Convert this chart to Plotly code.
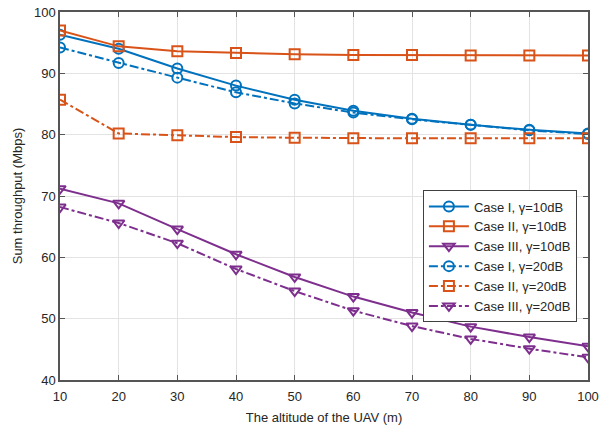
import plotly.graph_objects as go

altitude = [10, 20, 30, 40, 50, 60, 70, 80, 90, 100]
case1_10 = [96.3, 94.0, 90.8, 88.0, 85.7, 83.9, 82.6, 81.6, 80.8, 80.2]
case2_10 = [97.0, 94.4, 93.6, 93.3, 93.1, 93.0, 93.0, 92.9, 92.9, 92.9]
case3_10 = [71.2, 68.8, 64.6, 60.5, 56.8, 53.6, 51.0, 48.7, 47.0, 45.5]
case1_20 = [94.2, 91.7, 89.3, 86.9, 85.1, 83.6, 82.5, 81.6, 80.7, 80.1]
case2_20 = [85.7, 80.2, 79.9, 79.6, 79.5, 79.4, 79.4, 79.4, 79.4, 79.4]
case3_20 = [68.2, 65.6, 62.3, 58.1, 54.5, 51.3, 48.8, 46.7, 45.1, 43.7]
names = ["Case I, γ=10dB", "Case II, γ=10dB", "Case III, γ=10dB",
         "Case I, γ=20dB", "Case II, γ=20dB", "Case III, γ=20dB"]

blue, orange, purple = "#0072BD", "#D95319", "#7E2F8E"
series = [
    (case1_10, blue, "circle-open", "solid"),
    (case2_10, orange, "square-open", "solid"),
    (case3_10, purple, "triangle-down-open", "solid"),
    (case1_20, blue, "circle-open", "dashdot"),
    (case2_20, orange, "square-open", "dashdot"),
    (case3_20, purple, "triangle-down-open", "dashdot"),
]

fig = go.Figure()
for (ys, c, sym, dash), nm in zip(series, names):
    fig.add_trace(go.Scatter(
        x=altitude, y=ys, name=nm, mode="lines+markers",
        line=dict(color=c, width=2, dash=dash),
        marker=dict(symbol=sym, size=10, color=c, line=dict(color=c, width=2)),
    ))

fnt = "Liberation Sans, Arial"
axis_common = dict(
    showline=True, linecolor="#555555", linewidth=1.5, mirror="ticks",
    ticks="inside", ticklen=5, tickcolor="#555555",
    showgrid=True, gridcolor="#E3E3E3", gridwidth=1, zeroline=False,
    automargin=False,
    tickfont=dict(family=fnt, size=13, color="#262626"),
)
fig.update_xaxes(range=[10, 100], tickvals=altitude, ticklabelstandoff=4,
                 title=dict(text="The altitude of the UAV (m)", standoff=10,
                            font=dict(family=fnt, size=13, color="#262626")),
                 **axis_common)
fig.update_yaxes(range=[40, 100], tickvals=[40, 50, 60, 70, 80, 90, 100],
                 title=dict(text="Sum throughput (Mbps)", standoff=8,
                            font=dict(family=fnt, size=13, color="#262626")),
                 **axis_common)

fig.update_layout(
    width=609, height=426,
    margin=dict(l=60, r=21, t=12, b=46, autoexpand=False),
    plot_bgcolor="white", paper_bgcolor="white",
    font=dict(family=fnt, size=13, color="#262626"),
    legend=dict(x=0.979, y=0.515, xanchor="right", yanchor="top",
                bgcolor="rgba(255,255,255,1)", bordercolor="#404040", borderwidth=1,
                font=dict(size=13), tracegroupgap=0, itemwidth=40,
                entrywidthmode="pixels"),
    showlegend=True,
)
fig.write_html("out.html")
